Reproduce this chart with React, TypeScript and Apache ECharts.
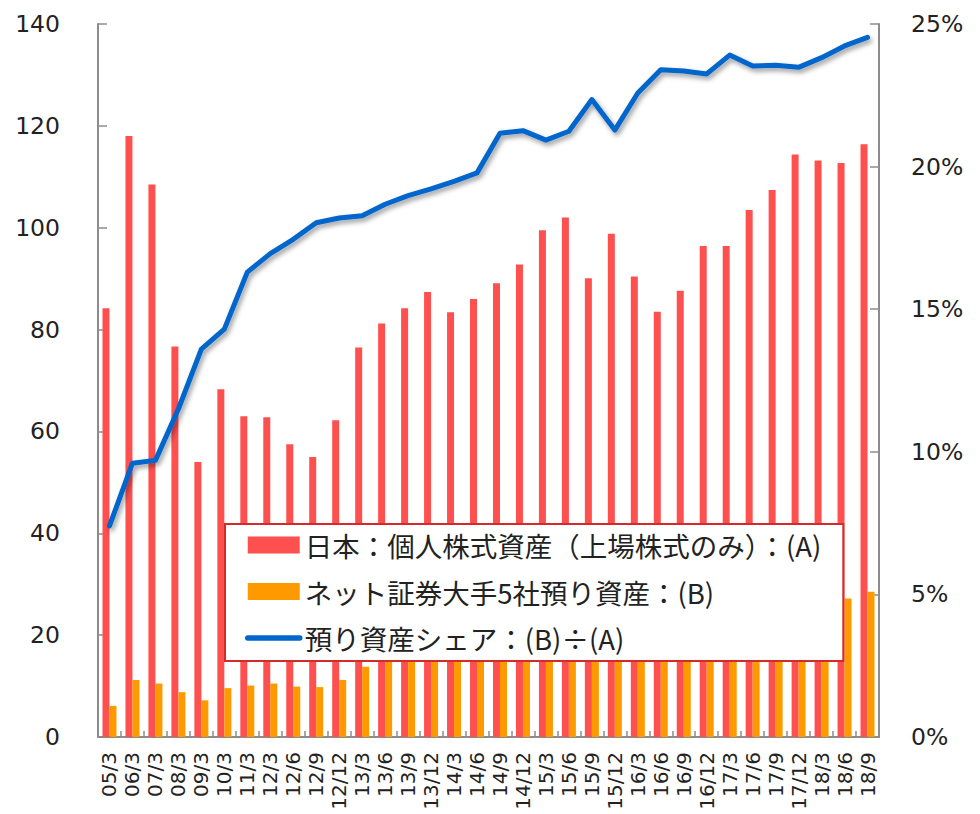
import React, { useEffect, useRef } from "react";
import * as echarts from "echarts";

const categories = [
  "05/3", "06/3", "07/3", "08/3", "09/3", "10/3", "11/3", "12/3", "12/6", "12/9",
  "12/12", "13/3", "13/6", "13/9", "13/12", "14/3", "14/6", "14/9", "14/12", "15/3",
  "15/6", "15/9", "15/12", "16/3", "16/6", "16/9", "16/12", "17/3", "17/6", "17/9",
  "17/12", "18/3", "18/6", "18/9",
];

// 日本：個人株式資産（上場株式のみ）：(A)
const assetsA = [
  84.2, 118.0, 108.5, 76.7, 54.0, 68.3, 63.0, 62.8, 57.5, 55.0,
  62.2, 76.5, 81.2, 84.2, 87.4, 83.4, 86.0, 89.1, 92.8, 99.5,
  102.0, 90.1, 98.8, 90.4, 83.5, 87.6, 96.4, 96.4, 103.5, 107.4,
  114.4, 113.2, 112.7, 116.4,
];

// ネット証券大手5社預り資産：(B)
const assetsB = [
  6.1, 11.2, 10.5, 8.8, 7.2, 9.6, 10.1, 10.5, 9.9, 9.8,
  11.2, 13.8, 15.1, 16.0, 16.8, 16.3, 17.0, 18.9, 19.7, 20.9,
  21.7, 20.2, 21.0, 20.4, 19.5, 20.5, 22.4, 23.0, 24.4, 25.3,
  26.9, 27.0, 27.2, 28.5,
];

// 預り資産シェア：(B)÷(A)  (%)
const shareBA = [
  7.4, 9.6, 9.7, 11.5, 13.6, 14.3, 16.3, 16.95, 17.45, 18.03,
  18.2, 18.28, 18.68, 18.98, 19.22, 19.48, 19.78, 21.17, 21.26, 20.93,
  21.24, 22.35, 21.28, 22.58, 23.4, 23.35, 23.25, 23.91, 23.53, 23.55,
  23.48, 23.82, 24.23, 24.53,
];

const leftTicks = { min: 0, max: 140, interval: 20 };
const rightTicks = { min: 0, max: 25, interval: 5 };

const nameA = "日本：個人株式資産（上場株式のみ）：(A)";
const nameB = "ネット証券大手5社預り資産：(B)";
const nameShare = "預り資産シェア：(B)÷(A)";

const axisGrey = "#8c8c8c";
const textColor = "#222222";

export default function App() {
  const ref = useRef<HTMLDivElement>(null);

  useEffect(() => {
    if (!ref.current) return;
    const chart = echarts.init(ref.current, undefined, { renderer: "svg" });
    chart.setOption({
      animation: false,
      backgroundColor: "#ffffff",
      grid: { left: 98, right: 101, top: 24, bottom: 77, containLabel: false },
      legend: {
        orient: "vertical",
        left: 225,
        top: 524,
        padding: [6, 22, 8, 20],
        itemGap: 16.5,
        itemWidth: 52,
        itemHeight: 17,
        borderColor: "#d42a2a",
        borderWidth: 2,
        backgroundColor: "#ffffff",
        textStyle: {
          fontFamily: "Noto Sans CJK JP",
          fontSize: 27.5,
          lineHeight: 30,
          color: textColor,
        },
        data: [
          { name: nameA, icon: "rect" },
          { name: nameB, icon: "rect" },
          {
            name: nameShare,
            itemStyle: { opacity: 0 },
            lineStyle: { color: "#0066cc", width: 5.5, cap: "round" },
          },
        ],
      },
      xAxis: {
        type: "category",
        data: categories,
        boundaryGap: true,
        axisLine: { lineStyle: { color: axisGrey, width: 2 } },
        axisTick: { show: true, inside: true, length: 6, lineStyle: { color: axisGrey, width: 1.5 } },
        axisLabel: {
          rotate: 90,
          interval: 0,
          fontFamily: "DejaVu Sans",
          fontSize: 20,
          color: textColor,
          margin: 15,
        },
        splitLine: { show: false },
      },
      yAxis: [
        {
          type: "value",
          position: "left",
          min: leftTicks.min,
          max: leftTicks.max,
          interval: leftTicks.interval,
          axisLine: { show: true, lineStyle: { color: axisGrey, width: 2 } },
          axisTick: { show: true, inside: true, length: 9, lineStyle: { color: axisGrey, width: 1.5 } },
          axisLabel: { fontFamily: "DejaVu Sans", fontSize: 23.5, color: textColor, margin: 38 },
          splitLine: { show: false },
        },
        {
          type: "value",
          position: "right",
          min: rightTicks.min,
          max: rightTicks.max,
          interval: rightTicks.interval,
          axisLine: { show: true, lineStyle: { color: axisGrey, width: 2 } },
          axisTick: { show: true, inside: true, length: 9, lineStyle: { color: axisGrey, width: 1.5 } },
          axisLabel: {
            fontFamily: "DejaVu Sans",
            fontSize: 23.5,
            color: textColor,
            margin: 32,
            formatter: "{value}%",
          },
          splitLine: { show: false },
        },
      ],
      series: [
        {
          name: nameA,
          type: "bar",
          data: assetsA,
          barWidth: 7,
          barGap: "0%",
          itemStyle: { color: "#ff5050" },
          z: 2,
        },
        {
          name: nameB,
          type: "bar",
          data: assetsB,
          barWidth: 7,
          barGap: "0%",
          itemStyle: { color: "#ff9900" },
          z: 2,
        },
        {
          name: nameShare,
          type: "line",
          yAxisIndex: 1,
          data: shareBA,
          symbol: "none",
          smooth: false,
          z: 3,
          itemStyle: { color: "#0066cc" },
          lineStyle: {
            color: "#0066cc",
            width: 5,
            cap: "round",
            join: "round",
            shadowColor: "rgba(0,0,0,0.4)",
            shadowBlur: 5,
            shadowOffsetX: 2,
            shadowOffsetY: 3,
          },
        },
      ],
    });
    return () => chart.dispose();
  }, []);

  return (
    <div
      ref={ref}
      style={{ position: "absolute", left: 0, top: 0, width: 980, height: 814 }}
    />
  );
}
